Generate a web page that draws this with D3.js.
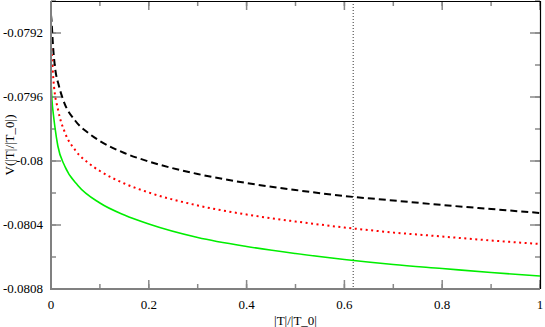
<!DOCTYPE html>
<html><head><meta charset="utf-8">
<script src="https://cdn.jsdelivr.net/npm/d3@7"></script>
<style>body{margin:0;background:#fff}svg{display:block}</style>
</head><body><svg id="c" width="545" height="327" font-family="'Liberation Serif','Times New Roman',serif" font-size="13"></svg>
<script>
const xTicks = [0, 0.2, 0.4, 0.6, 0.8, 1];
const xTickLabels = ["0", "0.2", "0.4", "0.6", "0.8", "1"];
const yTicks = [-0.0792, -0.0796, -0.08, -0.0804, -0.0808];
const yTickLabels = ["-0.0792", "-0.0796", "-0.08", "-0.0804", "-0.0808"];
const markerX = 0.618;

const blackX = [0, 0.001, 0.002, 0.004, 0.008, 0.016, 0.025, 0.05, 0.075, 0.1, 0.15, 0.2, 0.3, 0.4, 0.5, 0.6, 0.7, 0.8, 0.9, 1.0];
const blackY = [-0.0790875, -0.0791188, -0.0791688, -0.079275, -0.0794094, -0.0795281, -0.0796188, -0.07975, -0.0798219, -0.079875, -0.07995, -0.0800031, -0.0800813, -0.0801375, -0.0801813, -0.0802188, -0.0802469, -0.080275, -0.0803, -0.080325];
const redX = [0, 0.002, 0.005, 0.015, 0.028, 0.05, 0.075, 0.1, 0.15, 0.2, 0.3, 0.4, 0.5, 0.6, 0.7, 0.8, 0.9, 1.0];
const redY = [-0.0792625, -0.0793563, -0.0794938, -0.0796875, -0.0798188, -0.0799344, -0.0800094, -0.0800625, -0.0801406, -0.0801969, -0.0802781, -0.0803344, -0.0803781, -0.0804156, -0.0804469, -0.0804719, -0.0804969, -0.0805188];
const greenX = [0, 0.002, 0.005, 0.008, 0.014, 0.028, 0.055, 0.1, 0.15, 0.2, 0.3, 0.4, 0.5, 0.6, 0.7, 0.8, 0.9, 1.0];
const greenY = [-0.0794938, -0.0796188, -0.0797125, -0.0797875, -0.0799063, -0.0800313, -0.0801531, -0.0802625, -0.0803375, -0.0803938, -0.0804781, -0.0805344, -0.0805781, -0.0806156, -0.0806469, -0.0806719, -0.0806969, -0.0807188];

const L = 51, R = 540, T = 1, B = 289;
const svg = d3.select("#c");
const x = d3.scaleLinear().domain([0, 1]).range([L, R]);
const y = d3.scaleLinear().domain([-0.0808, -0.0790]).range([B, T]);

const minorX = d3.range(0, 11).map(i => i / 10);
const minorY = d3.range(0, 10).map(i => -0.0808 + i * 0.0002);

const tg = svg.append("g").attr("stroke", "#888").attr("stroke-width", 1.5);
minorX.forEach(v => {
  tg.append("line").attr("x1", x(v)).attr("x2", x(v)).attr("y1", B).attr("y2", B - 5);
  tg.append("line").attr("x1", x(v)).attr("x2", x(v)).attr("y1", T).attr("y2", T + 5);
});
xTicks.forEach(v => {
  tg.append("line").attr("x1", x(v)).attr("x2", x(v)).attr("y1", B).attr("y2", B - 9);
  tg.append("line").attr("x1", x(v)).attr("x2", x(v)).attr("y1", T).attr("y2", T + 9);
});
minorY.forEach(v => {
  tg.append("line").attr("x1", L).attr("x2", L + 5).attr("y1", y(v)).attr("y2", y(v));
  tg.append("line").attr("x1", R).attr("x2", R - 5).attr("y1", y(v)).attr("y2", y(v));
});
yTicks.forEach(v => {
  tg.append("line").attr("x1", L).attr("x2", L + 10).attr("y1", y(v)).attr("y2", y(v));
  tg.append("line").attr("x1", R).attr("x2", R - 10).attr("y1", y(v)).attr("y2", y(v));
});

svg.append("line").attr("x1", L).attr("x2", R).attr("y1", T + 0.5).attr("y2", T + 0.5).attr("stroke", "#000").attr("stroke-width", 1.2);
svg.append("line").attr("x1", R + 0.5).attr("x2", R + 0.5).attr("y1", T).attr("y2", B).attr("stroke", "#000").attr("stroke-width", 1.2);

svg.append("line").attr("x1", x(markerX)).attr("x2", x(markerX)).attr("y1", T).attr("y2", B)
  .attr("stroke", "#000").attr("stroke-width", 0.8).attr("stroke-dasharray", "1,2");

const line = d3.line().x(d => x(d[0])).y(d => y(d[1])).curve(d3.curveMonotoneX);
const series = [
  {xs: blackX, ys: blackY, color: "#000", w: 2, dash: "7,4"},
  {xs: redX, ys: redY, color: "#ff0000", w: 2, dash: "2,3.5"},
  {xs: greenX, ys: greenY, color: "#00ee00", w: 1.6, dash: null}
];
series.forEach(s => {
  const p = svg.append("path").datum(s.xs.map((v, i) => [v, s.ys[i]]))
    .attr("d", line).attr("fill", "none").attr("stroke", s.color).attr("stroke-width", s.w);
  if (s.dash) p.attr("stroke-dasharray", s.dash);
});

svg.append("line").attr("x1", L).attr("x2", L).attr("y1", T).attr("y2", B + 1).attr("stroke", "#808080").attr("stroke-width", 2);
svg.append("line").attr("x1", L - 1).attr("x2", R).attr("y1", B).attr("y2", B).attr("stroke", "#808080").attr("stroke-width", 2);

xTicks.forEach((v, i) => {
  svg.append("text").attr("x", x(v)).attr("y", 309).attr("text-anchor", "middle").text(xTickLabels[i]);
});
yTicks.forEach((v, i) => {
  svg.append("text").attr("x", 43).attr("y", y(v) + 4).attr("text-anchor", "end").text(yTickLabels[i]);
});
svg.append("text").attr("x", (L + R) / 2).attr("y", 325).attr("text-anchor", "middle").text("|T|/|T_0|");
svg.append("text").attr("transform", `translate(14,${(T + B) / 2}) rotate(-90)`).attr("text-anchor", "middle").text("V(|T|/|T_0|)");
</script></body></html>
